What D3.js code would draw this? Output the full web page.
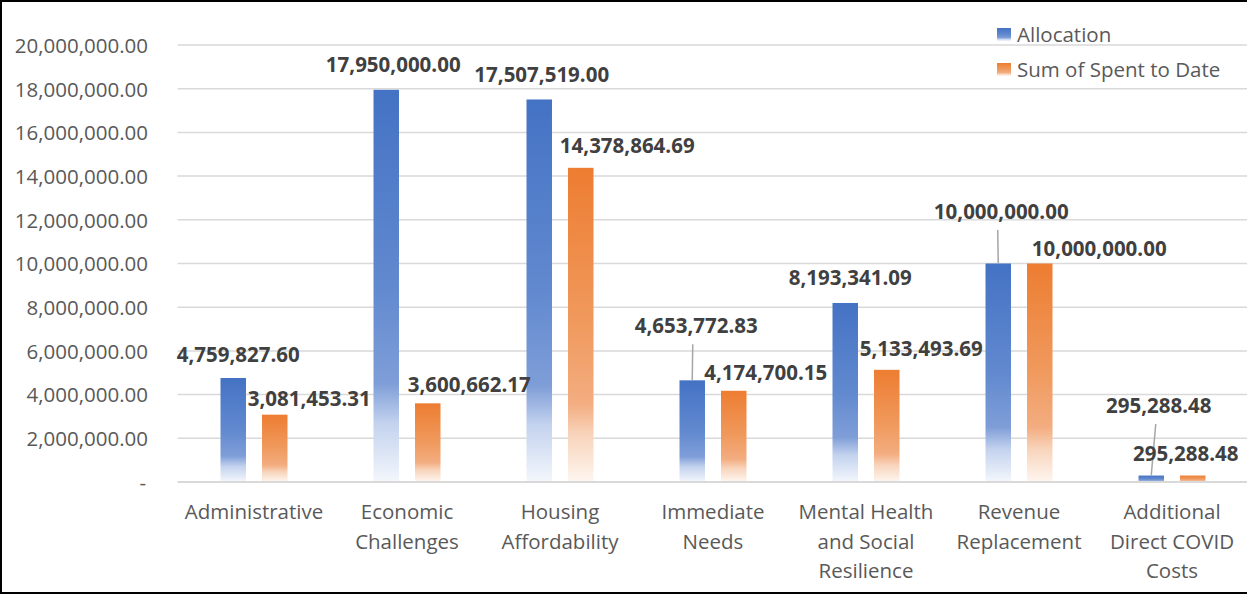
<!DOCTYPE html>
<html>
<head>
<meta charset="utf-8">
<script src="https://cdn.jsdelivr.net/npm/d3@7"></script>
<style>
  html, body { margin: 0; padding: 0; background: #fff; }
  svg { display: block; }
  text { font-family: "Open Sans", "Noto Sans", sans-serif; }
</style>
</head>
<body>
<svg id="chart" width="1247" height="595"></svg>
<script>
// ---- data ----
const categories = [
  "Administrative",
  "Economic Challenges",
  "Housing Affordability",
  "Immediate Needs",
  "Mental Health and Social Resilience",
  "Revenue Replacement",
  "Additional Direct COVID Costs"
];
// category labels broken into lines as shown under the axis
const categoryLines = [
  ["Administrative"],
  ["Economic", "Challenges"],
  ["Housing", "Affordability"],
  ["Immediate", "Needs"],
  ["Mental Health", "and Social", "Resilience"],
  ["Revenue", "Replacement"],
  ["Additional", "Direct COVID", "Costs"]
];
const seriesNames = ["Allocation", "Sum of Spent to Date"];
const allocation = [4759827.60, 17950000.00, 17507519.00, 4653772.83, 8193341.09, 10000000.00, 295288.48];
const spent      = [3081453.31, 3600662.17, 14378864.69, 4174700.15, 5133493.69, 10000000.00, 295288.48];
const yTicks = [0, 2000000, 4000000, 6000000, 8000000, 10000000, 12000000, 14000000, 16000000, 18000000, 20000000];

// label placement relative to the top centre of each bar: [dx, dy]
const allocLabelOffsets = [[5, -16], [7, -18], [2.5, -17.5], [4, -47], [5, -18], [3, -44.5], [7.5, -62.5]];
const spentLabelOffsets = [[34.5, -8.7], [41.5, -11], [46.5, -15], [32, -11], [34.5, -14], [59.5, -7.5], [-7, -14.5]];
// leader lines (allocation labels lifted away from the bar): dx of the upper end, or null
const allocLeaders = [null, null, null, 0.5, null, -0.5, 4.5];

// ---- layout ----
const W = 1247, H = 595;
const plot = { left: 177.5, right: 1248.5, top: 45, bottom: 482 };
const colors = { blue: "#4472C4", orange: "#ED7D31", text: "#595959", label: "#404040", grid: "#d9d9d9" };

const svg = d3.select("#chart");

// bar gradients: full colour at the top, fading to near white at the base
const defs = svg.append("defs");
function makeGradient(id, stops) {
  const g = defs.append("linearGradient").attr("id", id)
    .attr("x1", 0).attr("y1", 0).attr("x2", 0).attr("y2", 1);
  stops.forEach(([o, c]) => g.append("stop").attr("offset", o).attr("stop-color", c));
}
makeGradient("gradBlue", [[0, "#4472C4"], [0.5, "#6189cf"], [0.75, "#7f9ed8"], [0.85, "#c3d2ee"], [1, "#f4f7fc"]]);
makeGradient("gradOrange", [[0, "#ED7D31"], [0.5, "#f09a5e"], [0.75, "#f3ad80"], [0.85, "#f8d4bb"], [1, "#fef6f0"]]);
const fills = ["url(#gradBlue)", "url(#gradOrange)"];

const x0 = d3.scaleBand().domain(categories).range([plot.left, plot.right]).padding(0);
const groupWidth = 67;
const x1 = d3.scaleBand().domain([0, 1]).range([0, groupWidth]).paddingInner(0.386);
const y = d3.scaleLinear().domain([0, 20000000]).range([plot.bottom, plot.top]);
const fmt = d3.format(",.2f");

const barCenter = (ci, si) => x0(categories[ci]) + x0.bandwidth() / 2 - groupWidth / 2 + x1(si) + x1.bandwidth() / 2;

// gridlines
svg.append("g").selectAll("line").data(yTicks.filter(t => t > 0)).join("line")
  .attr("x1", plot.left).attr("x2", plot.right)
  .attr("y1", d => y(d)).attr("y2", d => y(d))
  .attr("stroke", colors.grid).attr("stroke-width", 1.5);

// y axis labels
const yAxis = d3.axisLeft(y).tickValues(yTicks).tickSize(0).tickPadding(0)
  .tickFormat(d => d === 0 ? "-" : fmt(d));
const yg = svg.append("g").attr("transform", "translate(148,0)").call(yAxis);
yg.select(".domain").remove();
yg.selectAll("text")
  .attr("font-family", "'Open Sans', sans-serif")
  .attr("font-size", 20.5).attr("fill", colors.text)
  .attr("dy", null).attr("y", 7.3).attr("x", d => d === 0 ? -2 : 0);

// bars
const seriesData = [allocation, spent];
const barG = svg.append("g");
seriesData.forEach((vals, si) => {
  barG.selectAll(null).data(vals).join("rect")
    .attr("x", (d, i) => barCenter(i, si) - x1.bandwidth() / 2)
    .attr("width", x1.bandwidth())
    .attr("y", d => y(d))
    .attr("height", d => y(0) - y(d))
    .attr("fill", fills[si]);
});

// category axis line
svg.append("line")
  .attr("x1", plot.left).attr("x2", plot.right)
  .attr("y1", y(0)).attr("y2", y(0))
  .attr("stroke", colors.grid).attr("stroke-width", 2);

// category labels
const catG = svg.append("g");
categoryLines.forEach((lines, i) => {
  const t = catG.append("text")
    .attr("text-anchor", "middle")
    .attr("font-size", 20.5).attr("fill", colors.text);
  lines.forEach((ln, k) => {
    t.append("tspan")
      .attr("x", x0(categories[i]) + x0.bandwidth() / 2)
      .attr("y", 519 + k * 29.5)
      .text(ln);
  });
});

// leader lines
const leadG = svg.append("g");
allocation.forEach((v, i) => {
  const lx = allocLeaders[i];
  if (lx === null) return;
  const cx = barCenter(i, 0);
  const top = y(v) + allocLabelOffsets[i][1] + 11;
  leadG.append("line")
    .attr("x1", cx + lx).attr("y1", top)
    .attr("x2", cx).attr("y2", y(v))
    .attr("stroke", "#a6a6a6").attr("stroke-width", 1.5);
});

// data labels
const labG = svg.append("g")
  .attr("font-weight", "bold").attr("font-size", 20.5)
  .attr("fill", colors.label).attr("text-anchor", "middle");
[[allocation, allocLabelOffsets, 0], [spent, spentLabelOffsets, 1]].forEach(([vals, offs, si]) => {
  labG.selectAll(null).data(vals).join("text")
    .attr("x", (d, i) => barCenter(i, si) + offs[i][0])
    .attr("y", (d, i) => y(d) + offs[i][1])
    .text(d => fmt(d));
});

// legend
const legend = svg.append("g").attr("transform", "translate(997,28)");
seriesNames.forEach((name, i) => {
  const row = legend.append("g").attr("transform", `translate(0,${i * 35})`);
  row.append("rect").attr("width", 14).attr("height", 13).attr("fill", fills[i]);
  row.append("text").attr("x", 20).attr("y", 14)
    .attr("font-size", 20.5).attr("fill", colors.text).text(name);
});

// chart frame
svg.append("rect")
  .attr("x", 1).attr("y", 1).attr("width", W + 2).attr("height", H - 3)
  .attr("fill", "none").attr("stroke", "#000").attr("stroke-width", 2);
</script>
</body>
</html>
